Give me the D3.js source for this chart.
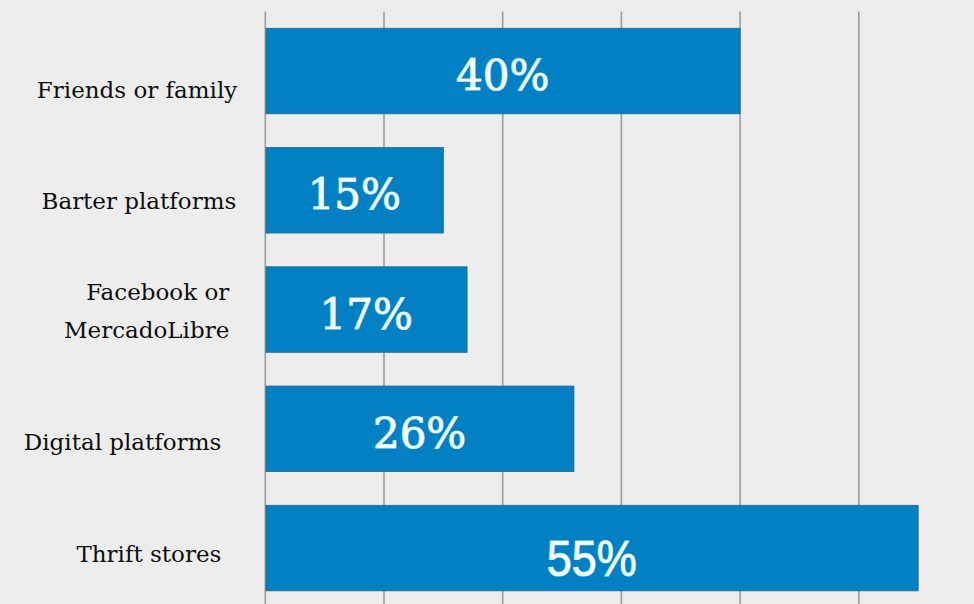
<!DOCTYPE html>
<html>
<head>
<meta charset="utf-8">
<script src="https://cdn.jsdelivr.net/npm/d3@7"></script>
<style>
  html, body { margin: 0; padding: 0; background: #ededed; }
  svg { display: block; }
</style>
</head>
<body>
<svg id="chart" width="974" height="604"></svg>
<script>
// Where people go to exchange or buy second-hand goods (share of respondents, %)
const categories = [
  "Friends or family",
  "Barter platforms",
  "Facebook or\nMercadoLibre",
  "Digital platforms",
  "Thrift stores"
];
const values = [40, 15, 17, 26, 55];
const gridTicks = [0, 10, 20, 30, 40, 50, 60];

// Per-row label layout: gap between label's right edge and the axis, and baseline shift from bar centre
const labelGap = [28, 29, 36, 44, 44];
const labelDy = [26.5, 18.5, -9.5, 21.5, 14];

const W = 974, H = 604;
const svg = d3.select("#chart");

const x = d3.scaleLinear().domain([0, 60]).range([265.3, 977.5]);
const y = d3.scaleBand()
  .domain(categories)
  .range([11.4, 607.7])
  .paddingInner(0.283)
  .paddingOuter(0.1415);

// vertical gridlines
svg.append("g")
  .selectAll("line")
  .data(gridTicks)
  .join("line")
  .attr("x1", d => x(d)).attr("x2", d => x(d))
  .attr("y1", y.range()[0]).attr("y2", H)
  .attr("stroke", "#9d9d9d")
  .attr("stroke-width", 1.6);

const rows = categories.map((c, i) => ({ c, v: values[i], i }));

// bars
svg.append("g")
  .selectAll("rect")
  .data(rows)
  .join("rect")
  .attr("x", x(0) + 0.7)
  .attr("y", d => y(d.c))
  .attr("width", d => x(d.v) - x(0) - 0.7)
  .attr("height", y.bandwidth())
  .attr("fill", "#0380c3")
  .attr("stroke", "#21688f")
  .attr("stroke-width", 0.8);

// value labels inside the bars; the largest one uses a condensed sans face
const vals = svg.append("g")
  .selectAll("text")
  .data(rows)
  .join("text")
  .attr("x", d => (x(0) + x(d.v)) / 2)
  .attr("y", d => y(d.c) + y.bandwidth() / 2 + (d.i === 4 ? 28 : 19))
  .attr("text-anchor", "middle")
  .attr("font-family", d => d.i === 4 ? "'Liberation Sans', sans-serif" : "'DejaVu Serif', serif")
  .attr("font-size", d => d.i === 4 ? 50 : 42)
  .attr("fill", "#f6fdff")
  .attr("stroke", "#a8e6f7")
  .attr("stroke-width", 1.2)
  .attr("paint-order", "stroke")
  .text(d => d.v + "%");

vals.filter(d => d.i === 4)
  .attr("textLength", 90)
  .attr("lengthAdjust", "spacingAndGlyphs");

// category labels
const lab = svg.append("g")
  .selectAll("text")
  .data(rows)
  .join("text")
  .attr("x", d => x(0) - labelGap[d.i])
  .attr("y", d => y(d.c) + y.bandwidth() / 2 + labelDy[d.i])
  .attr("text-anchor", "end")
  .attr("font-family", "'DejaVu Serif', serif")
  .attr("font-size", 23)
  .attr("fill", "#0d0d0d");

lab.selectAll("tspan")
  .data(d => d.c.split("\n").map(s => ({ s, x: x(0) - labelGap[d.i] })))
  .join("tspan")
  .attr("x", t => t.x)
  .attr("dy", (t, k) => k === 0 ? 0 : 38)
  .text(t => t.s);
</script>
</body>
</html>
